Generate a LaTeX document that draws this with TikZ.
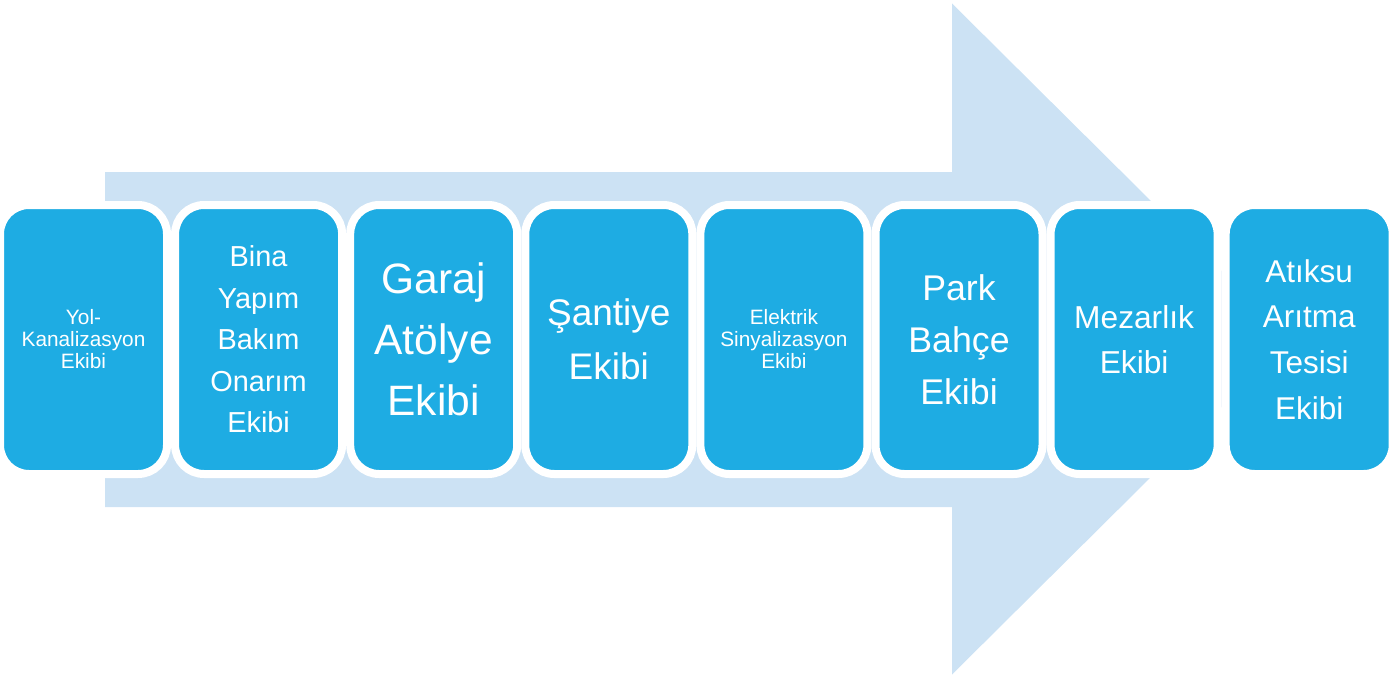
\documentclass[tikz,border=0pt]{standalone}
\usepackage{fontspec}
\setmainfont{Liberation Sans}
\definecolor{arrowblue}{RGB}{204,226,244}
\definecolor{teamblue}{RGB}{30,172,227}
\tikzset{
  team/.style={fill=teamblue, draw=white, line width=8pt, rounded corners=29pt,
    minimum width=167pt, minimum height=269pt, inner sep=0pt,
    text=white, align=center},
  fs/.style n args={2}{font=\fontsize{#1pt}{#2pt}\selectfont}
}
\begin{document}
\begin{tikzpicture}[x=1pt,y=-1pt]
\useasboundingbox (0,0) rectangle (1399,677);
% wide background arrow
\fill[arrowblue] (105,172) -- (952,172) -- (952,3.5) -- (1290,339)
  -- (952,674.5) -- (952,507) -- (105,507) -- cycle;
% team boxes, left to right
\node[team, fs={20.8}{22}]   (b1) at (83.5,339.5)  {Yol-\\Kanalizasyon\\Ekibi};
\node[team, fs={28.9}{41.5}] (b2) at (258.6,339.5) {Bina\\Yapım\\Bakım\\Onarım\\Ekibi};
\node[team, fs={42.5}{61}]   (b3) at (433.7,339.5) {Garaj\\Atölye\\Ekibi};
\node[team, fs={37}{54}]     (b4) at (608.8,339.5) {Şantiye\\Ekibi};
\node[team, fs={20.8}{22}]   (b5) at (783.9,339.5) {Elektrik\\Sinyalizasyon\\Ekibi};
\node[team, fs={35.7}{52}]   (b6) at (959.0,339.5) {Park\\Bahçe\\Ekibi};
\node[team, fs={31.7}{45}]   (b7) at (1134.1,339.5) {Mezarlık\\Ekibi};
\node[team, fs={31.5}{45.7}] (b8) at (1309.2,339.5) {Atıksu\\Arıtma\\Tesisi\\Ekibi};
\end{tikzpicture}
\end{document}
